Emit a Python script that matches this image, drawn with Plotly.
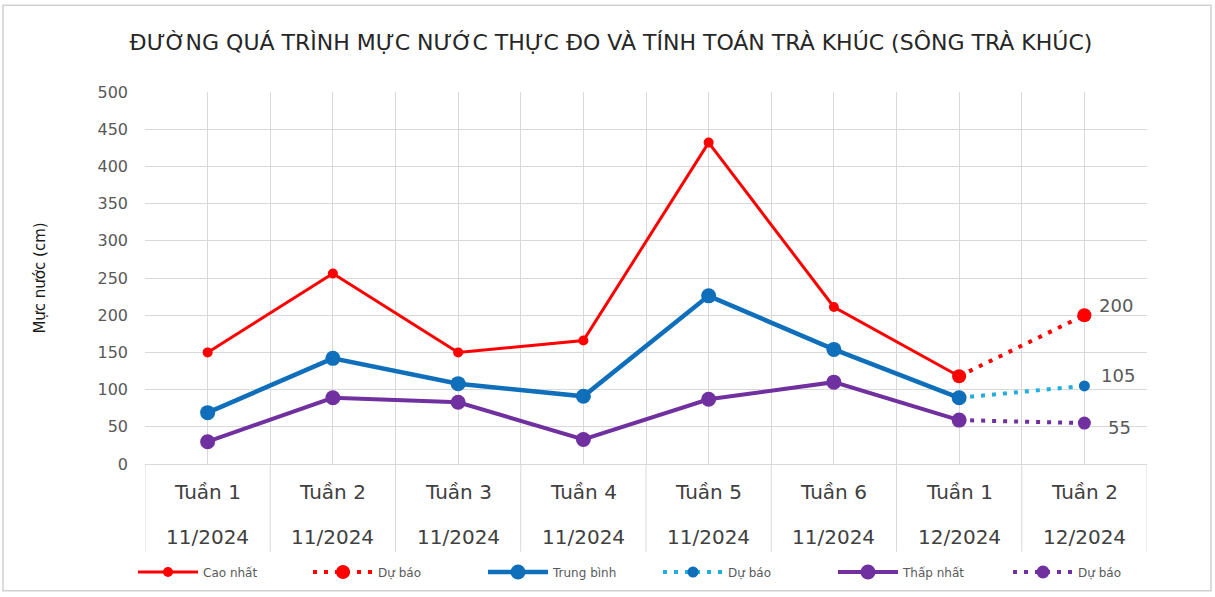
import plotly.graph_objects as go

weeks = ["Tuần 1", "Tuần 2", "Tuần 3", "Tuần 4", "Tuần 5", "Tuần 6", "Tuần 1", "Tuần 2"]
months = ["11/2024", "11/2024", "11/2024", "11/2024", "11/2024", "11/2024", "12/2024", "12/2024"]

cao_nhat = [150, 256, 150, 166, 432, 211, 118]
cao_du_bao = [118, 200]
trung_binh = [69, 142, 108, 91, 226, 154, 89]
tb_du_bao = [89, 105]
thap_nhat = [30, 89, 83, 33, 87, 110, 59]
thap_du_bao = [59, 55]

title = "ĐƯỜNG QUÁ TRÌNH MỰC NƯỚC THỰC ĐO VÀ TÍNH TOÁN TRÀ KHÚC (SÔNG TRÀ KHÚC)"
y_title = "Mực nước (cm)"

RED = "#FF0000"
BLUE = "#0F6FBA"
CYAN = "#22AEDD"
PURPLE = "#7030A0"
GRID = "#D9D9D9"
TXT = "#595959"

W, H = 1215, 597
ML, MR, MT, MB = 145, 68, 92, 132
PW, PH = W - ML - MR, H - MT - MB

n = len(weeks)
x_obs = list(range(len(cao_nhat)))
x_fc = [len(cao_nhat) - 1, len(cao_nhat)]

fig = go.Figure()
fig.add_trace(go.Scatter(x=x_obs, y=cao_nhat, name="Cao nhất", mode="lines+markers",
                         line=dict(color=RED, width=3), marker=dict(size=10, color=RED)))
fig.add_trace(go.Scatter(x=x_fc, y=cao_du_bao, name="Dự báo", mode="lines+markers",
                         line=dict(color=RED, width=4, dash="4px,7px"), marker=dict(size=14, color=RED)))
fig.add_trace(go.Scatter(x=x_obs, y=trung_binh, name="Trung bình", mode="lines+markers",
                         line=dict(color=BLUE, width=4.5), marker=dict(size=15, color=BLUE)))
fig.add_trace(go.Scatter(x=x_fc, y=tb_du_bao, name="Dự báo", mode="lines+markers",
                         line=dict(color=CYAN, width=4, dash="4px,7px"), marker=dict(size=11, color=BLUE)))
fig.add_trace(go.Scatter(x=x_obs, y=thap_nhat, name="Thấp nhất", mode="lines+markers",
                         line=dict(color=PURPLE, width=4), marker=dict(size=15, color=PURPLE)))
fig.add_trace(go.Scatter(x=x_fc, y=thap_du_bao, name="Dự báo", mode="lines+markers",
                         line=dict(color=PURPLE, width=4, dash="4px,7px"), marker=dict(size=13, color=PURPLE)))

annotations = []
# category labels (two rows)
for i, (w, m) in enumerate(zip(weeks, months)):
    annotations.append(dict(x=i, y=0, xref="x", yref="paper", text=w, showarrow=False,
                            yanchor="middle", yshift=-28, font=dict(size=20, color="#404040")))
    annotations.append(dict(x=i, y=0, xref="x", yref="paper", text=m, showarrow=False,
                            yanchor="middle", yshift=-73, font=dict(size=20, color="#404040")))

# forecast end labels
for vals, xs, ys in [(cao_du_bao, 13, 10), (tb_du_bao, 15, 10), (thap_du_bao, 22, -4)]:
    annotations.append(dict(x=x_fc[-1], y=vals[-1], xref="x", yref="y", text=str(vals[-1]),
                            showarrow=False, xanchor="left", yanchor="middle", xshift=xs, yshift=ys,
                            font=dict(size=18, color=TXT)))

shapes = []
# category dividers below axis
for k in range(n + 1):
    shapes.append(dict(type="line", xref="x", yref="paper", x0=k - 0.5, x1=k - 0.5,
                       y0=0, y1=-(553 - (MT + PH)) / PH, line=dict(color=GRID, width=1)))
# chart border
bx0, bx1, by0, by1 = 3, 1211, 5, 592
shapes.append(dict(type="rect", xref="paper", yref="paper",
                   x0=(bx0 - ML) / PW, x1=(bx1 - ML) / PW,
                   y0=1 - (by1 - MT) / PH, y1=1 - (by0 - MT) / PH,
                   line=dict(color="#D0D0D0", width=1.5), layer="below"))

fig.update_layout(
    width=W, height=H,
    margin=dict(l=ML, r=MR, t=MT, b=MB),
    paper_bgcolor="white", plot_bgcolor="white",
    font=dict(family="DejaVu Sans", color=TXT),
    title=dict(text=title, x=(611 - ML) / PW, xref="paper", xanchor="center", y=1 - 42 / H, yanchor="middle",
               font=dict(family="DejaVu Sans", size=22, color="#262626")),
    xaxis=dict(range=[-0.5, n - 0.5], tick0=-0.5, dtick=0.5, showgrid=True, gridcolor=GRID, gridwidth=1,
               showticklabels=False, zeroline=False, showline=True, linecolor=GRID, linewidth=1,
               ticks="", fixedrange=True),
    yaxis=dict(range=[0, 500], dtick=50, showgrid=True, gridcolor=GRID, gridwidth=1, zeroline=False,
               showline=False, ticks="", ticklabelstandoff=16,
               tickfont=dict(size=16, color=TXT),
               title=dict(text=y_title, font=dict(size=15, color="#1a1a1a"), standoff=48)),
    showlegend=True,
    legend=dict(orientation="h", x=(133 - ML) / PW, xanchor="left", y=-(572 - (MT + PH)) / PH,
                yanchor="middle", font=dict(size=12, color=TXT), itemwidth=60,
                entrywidth=100, entrywidthmode="pixels", bgcolor="rgba(0,0,0,0)"),
    annotations=annotations,
    shapes=shapes,
)

fig.write_html("out.html", config={"displayModeBar": False},
               post_script="document.body.style.margin='0px';")
